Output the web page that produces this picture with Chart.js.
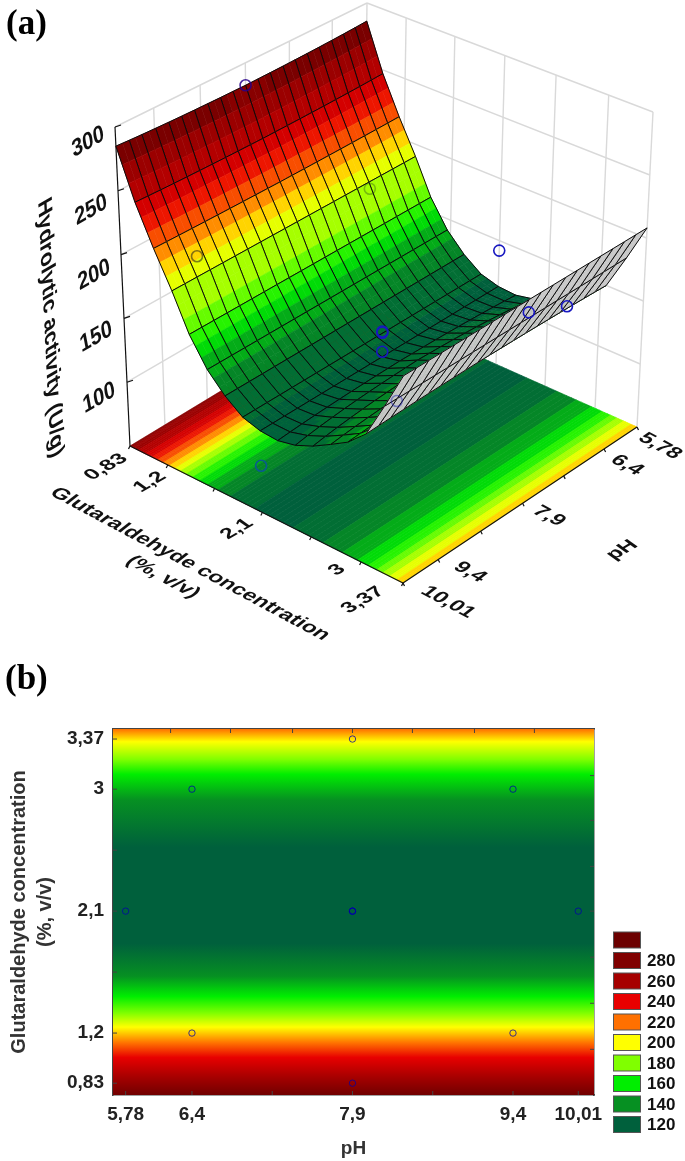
<!DOCTYPE html>
<html>
<head>
<meta charset="utf-8">
<style>
  html, body { margin: 0; padding: 0; background: #fff; }
  #page { position: relative; width: 685px; height: 1161px; overflow: hidden; }
  canvas { position: absolute; left: 0; }
  .tag { position: absolute; font: bold 35px "Liberation Serif", serif; color: #000; line-height: 1; }
</style>
<script src="https://cdn.jsdelivr.net/npm/chart.js@4"></script>
</head>
<body>
<div id="page">
  <canvas id="surfaceChart" width="685" height="660" style="top:0"></canvas>
  <canvas id="contourChart" width="685" height="501" style="top:660px"></canvas>
  <div class="tag" style="left:6px;top:5px">(a)</div>
  <div class="tag" style="left:5px;top:660px">(b)</div>
</div>
<script>
// design points
const pointPH = [6.4, 9.4, 6.4, 9.4, 5.78, 10.01, 7.9, 7.9, 7.9, 7.9, 7.9];
const pointGlut = [1.2, 1.2, 3, 3, 2.1, 2.1, 0.83, 3.37, 2.1, 2.1, 2.1];
const pointActivity = [175, 197, 148, 156, 142, 86, 282, 198, 133, 132, 117];

// surface mesh
const meshPH = [5.78, 5.99, 6.2, 6.41, 6.63, 6.84, 7.05, 7.26, 7.48, 7.69, 7.9, 8.11, 8.32, 8.53, 8.75, 8.96, 9.17, 9.38, 9.6, 9.8, 10.01];
const meshGlut = [0.83, 0.99, 1.15, 1.31, 1.46, 1.62, 1.78, 1.94, 2.1, 2.26, 2.42, 2.58, 2.74, 2.89, 3.05, 3.21, 3.37];
const meshActivity = [285, 247, 217, 190, 162, 141, 127, 117, 113, 112, 115, 121, 129, 137, 150, 178, 208];
// how far each row sags at mid pH, and the share of that sag along the pH axis
const rowSag = [3, 2, 1, 0, 0, 0, 0, 0, 0, -4, -8, -8, -6, -4, -2, 0, 0];
const phSagShare = [0, 0.2, 0.36, 0.5, 0.62, 0.72, 0.8, 0.87, 0.92, 0.96, 1, 0.96, 0.92, 0.87, 0.8, 0.72, 0.62, 0.5, 0.36, 0.2, 0];

// contour crossings
const contourGlut = [0.743, 0.78, 0.875, 1.02, 1.126, 1.244, 1.347, 1.47, 1.62, 1.86, 2.2, 2.57, 2.92, 3.11, 3.22, 3.35, 3.444];
const contourActivity = [295, 280, 260, 240, 220, 200, 180, 160, 140, 120, 112, 120, 140, 160, 180, 200, 220];

// colour scale
const colorLevels = [120, 140, 160, 180, 200, 220, 240, 260, 280, 300];
const colorValues = ["#00603c", "#069022", "#00ee00", "#80ff00", "#ffff00", "#ff7000", "#e80000", "#a60000", "#800000", "#6c0000"];
const legendLabels = ["", "280", "260", "240", "220", "200", "180", "160", "140", "120"];

// axes
const phTicks = [5.78, 6.4, 7.9, 9.4, 10.01];
const phMinorTicks = [7.15, 8.65];
const phTopTicks = [6.2, 6.76, 7.34, 7.9, 8.46, 9.04, 9.6];
const glutTicks = [0.83, 1.2, 2.1, 3, 3.37];
const glutMinorTicks = [1.65, 2.55];
const glutRightTicks = [1.08, 1.42, 1.76, 2.1, 2.43, 2.77, 3.1];
const activityTicks = [100, 150, 200, 250, 300];
const wallPH = [6.4, 7.15, 7.9, 8.65, 9.4];
const wallGlut = [1.2, 1.65, 2.1, 2.55, 3];

const comma = (v) => String(v).replace(".", ",");

function hexRgb(h) {
  return [1, 3, 5].map((i) => parseInt(h.substr(i, 2), 16));
}

function colorFor(v) {
  if (v <= colorLevels[0]) return colorValues[0];
  for (let i = 1; i < colorLevels.length; i++) {
    if (v <= colorLevels[i]) {
      const t = (v - colorLevels[i - 1]) / (colorLevels[i] - colorLevels[i - 1]);
      const a = hexRgb(colorValues[i - 1]);
      const b = hexRgb(colorValues[i]);
      return `rgb(${a.map((c, k) => Math.round(c + (b[k] - c) * t)).join(",")})`;
    }
  }
  return colorValues[colorValues.length - 1];
}

// unit square to screen quad, this is the perspective of the box
function squareToQuad(p00, p10, p11, p01) {
  const dx1 = p10[0] - p11[0], dx2 = p01[0] - p11[0], sx = p00[0] - p10[0] + p11[0] - p01[0];
  const dy1 = p10[1] - p11[1], dy2 = p01[1] - p11[1], sy = p00[1] - p10[1] + p11[1] - p01[1];
  const den = dx1 * dy2 - dx2 * dy1;
  const g = (sx * dy2 - dx2 * sy) / den;
  const h = (dx1 * sy - sx * dy1) / den;
  const a = p10[0] - p00[0] + g * p10[0], b = p01[0] - p00[0] + h * p01[0], c = p00[0];
  const d = p10[1] - p00[1] + g * p10[1], e = p01[1] - p00[1] + h * p01[1], f = p00[1];
  return (u, v) => {
    const w = g * u + h * v + 1;
    return [(a * u + b * v + c) / w, (d * u + e * v + f) / w];
  };
}

const floorQuad = squareToQuad([363, 305], [130, 446], [403, 583], [637, 427]);
const topQuad = squareToQuad([367, 3], [115, 127], [404, 255], [653, 112]);

function project(chart, ph, glut, act) {
  const dec = (s, val) => s.getDecimalForPixel(s.getPixelForValue(val));
  const u = dec(chart.scales.x, ph);
  const v = dec(chart.scales.y, glut);
  const w = dec(chart.scales.z, act);
  const a = floorQuad(u, v);
  const b = topQuad(u, v);
  return [a[0] + (b[0] - a[0]) * w, a[1] + (b[1] - a[1]) * w];
}

function poly(ctx, pts) {
  ctx.beginPath();
  pts.forEach((p, i) => (i ? ctx.lineTo(p[0], p[1]) : ctx.moveTo(p[0], p[1])));
  ctx.closePath();
}

function segment(ctx, a, b) {
  ctx.beginPath();
  ctx.moveTo(a[0], a[1]);
  ctx.lineTo(b[0], b[1]);
  ctx.stroke();
}

function skewText(ctx, text, x, y, m, font) {
  ctx.save();
  ctx.font = font;
  ctx.fillStyle = "#111";
  ctx.textAlign = "center";
  ctx.textBaseline = "middle";
  ctx.transform(m[0], m[1], m[2], m[3], x, y);
  ctx.fillText(text, 0, 0);
  ctx.restore();
}

// stepped shading of the 3D panel
function bandColor(v) {
  return colorFor(Math.floor((v - 116) / 10) * 10 + 126);
}

const surfacePlugin = {
  id: "surface",
  afterDatasetsUpdate(chart) {
    // move the library's own point elements onto the projected positions
    const meta = chart.getDatasetMeta(0);
    meta.data.forEach((el, i) => {
      const p = project(chart, pointPH[i], pointGlut[i], pointActivity[i]);
      el.x = p[0];
      el.y = p[1];
    });
  },
  beforeDatasetsDraw(chart) {
    const ctx = chart.ctx;
    const pMin = meshPH[0], pMax = meshPH[meshPH.length - 1];
    const gMin = meshGlut[0], gMax = meshGlut[meshGlut.length - 1];
    const zMin = chart.scales.z.min, zMax = activityTicks[activityTicks.length - 1];
    const P = (p, g, z) => project(chart, p, g, z);
    ctx.save();

    // back walls
    ctx.strokeStyle = "#d9d9d9";
    ctx.lineWidth = 1.4;
    wallPH.forEach((p) => segment(ctx, P(p, gMin, zMin), P(p, gMin, zMax)));
    wallGlut.forEach((g) => segment(ctx, P(pMin, g, zMin), P(pMin, g, zMax)));
    activityTicks.forEach((z) => {
      segment(ctx, P(pMax, gMin, z), P(pMin, gMin, z));
      segment(ctx, P(pMin, gMin, z), P(pMin, gMax, z));
    });
    segment(ctx, P(pMin, gMin, zMin), P(pMin, gMin, zMax));
    segment(ctx, P(pMin, gMax, zMin), P(pMin, gMax, zMax));

    // floor contour
    for (let i = 0; i < contourGlut.length - 1; i++) {
      for (let s = 0; s < 8; s++) {
        const g0 = contourGlut[i] + ((contourGlut[i + 1] - contourGlut[i]) * s) / 8;
        const g1 = contourGlut[i] + ((contourGlut[i + 1] - contourGlut[i]) * (s + 1)) / 8;
        if (g1 < gMin || g0 > gMax) continue;
        const a = Math.max(g0, gMin), b = Math.min(g1, gMax);
        const val = contourActivity[i] + ((contourActivity[i + 1] - contourActivity[i]) * (s + 0.5)) / 8;
        const c = bandColor(val);
        poly(ctx, [P(pMin, a, zMin), P(pMax, a, zMin), P(pMax, b, zMin), P(pMin, b, zMin)]);
        ctx.fillStyle = c;
        ctx.strokeStyle = c;
        ctx.lineWidth = 0.7;
        ctx.fill();
        ctx.stroke();
      }
    }

    // floor edges and axis
    ctx.strokeStyle = "#111";
    ctx.lineWidth = 1.2;
    segment(ctx, P(pMax, gMin, zMin), P(pMax, gMax, zMin));
    segment(ctx, P(pMax, gMax, zMin), P(pMin, gMax, zMin));
    segment(ctx, P(pMax, gMin, zMin), P(pMax, gMin, zMax));
    activityTicks.forEach((z) => {
      const a = P(pMax, gMin, z);
      segment(ctx, a, [a[0] + 6, a[1] - 2]);
    });
    glutTicks.concat(glutMinorTicks).forEach((g) => {
      const a = P(pMax, g, zMin);
      segment(ctx, a, [a[0] - 1.5, a[1] + 3]);
    });
    phTicks.concat(phMinorTicks).forEach((p) => {
      const a = P(p, gMax, zMin);
      segment(ctx, a, [a[0] + 1.5, a[1] + 3]);
    });

    // surface, far cells first
    const subRows = 3, subCols = 2;
    for (let i = 0; i < meshGlut.length - 1; i++) {
      for (let j = 0; j < meshPH.length - 1; j++) {
        const g0 = meshGlut[i], g1 = meshGlut[i + 1];
        const p0 = meshPH[j], p1 = meshPH[j + 1];
        const z00 = meshActivity[i] - rowSag[i] * phSagShare[j];
        const z10 = meshActivity[i] - rowSag[i] * phSagShare[j + 1];
        const z01 = meshActivity[i + 1] - rowSag[i + 1] * phSagShare[j];
        const z11 = meshActivity[i + 1] - rowSag[i + 1] * phSagShare[j + 1];
        const corners = [P(p0, g0, z00), P(p1, g0, z10), P(p1, g1, z11), P(p0, g1, z01)];
        let area = 0;
        corners.forEach((c, k) => {
          const n = corners[(k + 1) % 4];
          area += c[0] * n[1] - n[0] * c[1];
        });
        const underside = area > 0;
        const zAt = (s, t) => {
          const a = z00 + (z10 - z00) * t, b = z01 + (z11 - z01) * t;
          return a + (b - a) * s;
        };
        for (let s = 0; s < subRows; s++) {
          for (let t = 0; t < subCols; t++) {
            const sa = s / subRows, sb = (s + 1) / subRows;
            const ta = t / subCols, tb = (t + 1) / subCols;
            const ga = g0 + (g1 - g0) * sa, gb = g0 + (g1 - g0) * sb;
            const pa = p0 + (p1 - p0) * ta, pb = p0 + (p1 - p0) * tb;
            const c = underside ? "#c8c8c8" : bandColor(zAt((sa + sb) / 2, (ta + tb) / 2));
            poly(ctx, [P(pa, ga, zAt(sa, ta)), P(pb, ga, zAt(sa, tb)), P(pb, gb, zAt(sb, tb)), P(pa, gb, zAt(sb, ta))]);
            ctx.fillStyle = c;
            ctx.strokeStyle = c;
            ctx.lineWidth = 0.6;
            ctx.fill();
            ctx.stroke();
          }
        }
        poly(ctx, corners);
        ctx.strokeStyle = "#0a0a0a";
        ctx.lineWidth = 1;
        ctx.stroke();
      }
    }

    // text, sheared onto the faces of the box
    const wallM = [0.86, -0.5, 0.2, 1.05];
    const alongGlut = [0.88, 0.47, -0.7, 0.55];
    const alongPH = [0.86, -0.5, 0.7, 0.5];
    const tickFont = 'bold 22px "Liberation Sans", sans-serif';
    const activityAt = [[99, 398], [96, 337], [94, 275], [91, 210], [88, 142]];
    activityTicks.forEach((z, i) => skewText(ctx, String(z), activityAt[i][0], activityAt[i][1], wallM, tickFont));
    const glutAt = [[106, 467], [150, 482], [237, 529], [337, 570], [363, 600]];
    glutTicks.forEach((g, i) => skewText(ctx, comma(g), glutAt[i][0], glutAt[i][1], alongPH, tickFont));
    const phAt = [[660, 446], [627, 465], [549, 516], [470, 572], [448, 602]];
    phTicks.forEach((p, i) => skewText(ctx, comma(p), phAt[i][0], phAt[i][1], alongGlut, tickFont));
    skewText(ctx, "Hydrolytic activity (U/g)", 50, 328, [0.05, 1, -0.85, 0.5], 'bold 23px "Liberation Sans", sans-serif');
    skewText(ctx, "Glutaraldehyde concentration", 190, 564, alongGlut, 'bold 22px "Liberation Sans", sans-serif');
    skewText(ctx, "(%, v/v)", 163, 577, alongGlut, 'bold 22px "Liberation Sans", sans-serif');
    skewText(ctx, "pH", 622, 550, alongPH, 'bold 22px "Liberation Sans", sans-serif');
    ctx.restore();
  },
};

new Chart(document.getElementById("surfaceChart"), {
  type: "scatter",
  data: {
    datasets: [
      {
        label: "Hydrolytic activity",
        data: pointPH.map((p, i) => ({ x: p, y: pointGlut[i] })),
        pointRadius: 5.5,
        pointBorderWidth: 1.6,
        pointBackgroundColor: "rgba(0,0,0,0)",
        pointBorderColor: ["rgba(30,60,30,0.35)", "rgba(30,30,30,0.55)", "#1818c0", "rgba(20,20,170,0.45)", "#1818c0", "#0a5a90", "rgba(40,0,140,0.85)", "#1818c0", "#1818c0", "#1818c0", "#1818c0"],
        clip: false,
      },
    ],
  },
  options: {
    responsive: false,
    animation: false,
    events: [],
    layout: { padding: 0 },
    plugins: { legend: { display: false }, tooltip: { enabled: false } },
    scales: {
      x: { type: "linear", min: 5.78, max: 10.01, display: false },
      y: { type: "linear", min: 0.83, max: 3.37, display: false },
      z: { type: "linear", axis: "y", min: 50, max: 300, display: false },
    },
  },
  plugins: [surfacePlugin],
});

const contourPlugin = {
  id: "contour",
  beforeDatasetsDraw(chart) {
    const ctx = chart.ctx;
    const area = chart.chartArea;
    const y = chart.scales.y;
    const grad = ctx.createLinearGradient(0, area.top, 0, area.bottom);
    contourGlut.forEach((g, i) => {
      const off = (y.getPixelForValue(g) - area.top) / (area.bottom - area.top);
      grad.addColorStop(Math.min(1, Math.max(0, off)), colorFor(contourActivity[i]));
    });
    ctx.save();
    ctx.fillStyle = grad;
    ctx.fillRect(area.left, area.top, area.right - area.left, area.bottom - area.top);
    ctx.restore();
  },
  afterDraw(chart) {
    const ctx = chart.ctx;
    const { x, y, x2, y2 } = chart.scales;
    const area = chart.chartArea;
    ctx.save();
    ctx.strokeStyle = "#444";
    ctx.lineWidth = 1;
    const len = 4;
    x.ticks.forEach((t) => segment(ctx, [x.getPixelForValue(t.value), area.bottom], [x.getPixelForValue(t.value), area.bottom - len]));
    x2.ticks.forEach((t) => segment(ctx, [x2.getPixelForValue(t.value), area.top], [x2.getPixelForValue(t.value), area.top + len]));
    y.ticks.forEach((t) => segment(ctx, [area.left, y.getPixelForValue(t.value)], [area.left + len, y.getPixelForValue(t.value)]));
    y2.ticks.forEach((t) => segment(ctx, [area.right, y2.getPixelForValue(t.value)], [area.right - len, y2.getPixelForValue(t.value)]));

    // legend
    ctx.font = 'bold 17px "Liberation Sans", sans-serif';
    ctx.textBaseline = "middle";
    ctx.textAlign = "left";
    legendLabels.forEach((lab, i) => {
      const top = 272 + i * 20.5;
      ctx.fillStyle = colorValues[colorValues.length - 1 - i];
      ctx.fillRect(613.5, top, 27, 16);
      ctx.strokeStyle = "#555";
      ctx.strokeRect(613.5, top, 27, 16);
      ctx.fillStyle = "#111";
      ctx.fillText(lab, 647, top + 9);
    });
    ctx.restore();
  },
};

const labelFont = { family: '"Liberation Sans", sans-serif', weight: "bold", size: 19 };
const titleFont = { family: '"Liberation Sans", sans-serif', weight: "bold", size: 20, lineHeight: 1.3 };
const edgeBorder = { display: true, color: "#444", width: 1.5 };

new Chart(document.getElementById("contourChart"), {
  type: "scatter",
  data: {
    datasets: [
      {
        label: "Experimental points",
        data: pointPH.map((p, i) => ({ x: p, y: pointGlut[i] })),
        pointRadius: 3.2,
        pointBorderWidth: 1,
        pointBackgroundColor: "rgba(0,0,0,0)",
        pointBorderColor: "rgba(0,0,170,0.75)",
        clip: false,
      },
    ],
  },
  options: {
    responsive: false,
    animation: false,
    events: [],
    layout: { padding: { top: 69, right: 91, left: 0, bottom: 0 } },
    plugins: { legend: { display: false }, tooltip: { enabled: false } },
    scales: {
      x: {
        type: "linear",
        min: 5.662,
        max: 10.157,
        grid: { display: false, drawTicks: false },
        border: edgeBorder,
        title: { display: true, text: "pH", color: "#333", font: { ...titleFont, size: 19 }, padding: { top: 6, bottom: 0 } },
        ticks: {
          color: "#222",
          font: labelFont,
          padding: 8,
          autoSkip: false,
          maxRotation: 0,
          callback: (v) => (phTicks.includes(v) ? comma(v) : ""),
        },
        afterBuildTicks: (s) => {
          s.ticks = phTicks.concat(phMinorTicks).sort((a, b) => a - b).map((v) => ({ value: v }));
        },
        afterFit: (s) => {
          s.height = 66;
        },
      },
      y: {
        type: "linear",
        min: 0.743,
        max: 3.444,
        grid: { display: false, drawTicks: false },
        border: edgeBorder,
        title: { display: true, text: ["Glutaraldehyde concentration", "(%, v/v)"], color: "#333", font: titleFont, padding: { top: 6, bottom: 0 } },
        ticks: {
          color: "#222",
          font: labelFont,
          padding: 9,
          autoSkip: false,
          callback: (v) => (glutTicks.includes(v) ? comma(v) : ""),
        },
        afterBuildTicks: (s) => {
          s.ticks = glutTicks.concat(glutMinorTicks).sort((a, b) => a - b).map((v) => ({ value: v }));
        },
        afterFit: (s) => {
          s.width = 113;
        },
      },
      x2: {
        type: "linear",
        position: "top",
        min: 5.662,
        max: 10.157,
        grid: { display: false, drawTicks: false },
        border: edgeBorder,
        ticks: { display: false },
        afterBuildTicks: (s) => {
          s.ticks = phTopTicks.map((v) => ({ value: v }));
        },
        afterFit: (s) => {
          s.height = 0;
        },
      },
      y2: {
        type: "linear",
        position: "right",
        min: 0.743,
        max: 3.444,
        grid: { display: false, drawTicks: false },
        border: edgeBorder,
        ticks: { display: false },
        afterBuildTicks: (s) => {
          s.ticks = glutRightTicks.map((v) => ({ value: v }));
        },
        afterFit: (s) => {
          s.width = 0;
        },
      },
    },
  },
  plugins: [contourPlugin],
});
</script>
</body>
</html>
